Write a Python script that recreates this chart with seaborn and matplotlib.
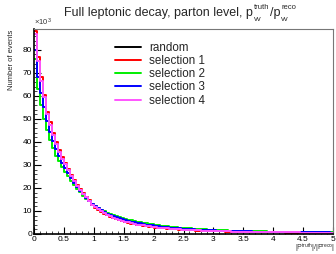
import numpy as np
import pandas as pd
import matplotlib
matplotlib.use("Agg")
import matplotlib.pyplot as plt
from matplotlib.lines import Line2D
from matplotlib.ticker import MultipleLocator
import seaborn as sns

# ---------------- data (counts in units of 10^3, 100 bins of width 0.05 on [0,5]) -------------
bin_edges_lo = 0.0
bin_edges_hi = 5.0
n_bins = 100

series_names = ["random", "selection 1", "selection 2", "selection 3", "selection 4"]
series_colors = ["#000000", "#ff0000", "#00ee00", "#0000ff", "#ff55ff"]

sel1 = [88, 77, 68, 60.5, 53, 48.5, 44, 40, 36.5, 33.5,
        31, 28.3, 25.8, 23.5, 21.4, 19.5, 17.7, 16.1, 14.7, 12.6,
        11.5, 10.5, 9.6, 8.8, 8.1, 7.5, 6.9, 6.4, 5.9, 5.5,
        5.1, 4.8, 4.5, 4.2, 3.9, 3.7, 3.5, 3.3, 3.1, 2.9,
        2.8, 2.6, 2.5, 2.4, 2.3, 2.2, 2.1, 2.0, 1.9, 1.8,
        1.75, 1.7, 1.6, 1.55, 1.5, 1.45, 1.4, 1.35, 1.3, 1.25,
        1.2, 1.17, 1.14, 1.1, 1.07, 1.04, 1.0, 0.98, 0.95, 0.93,
        0.9, 0.88, 0.86, 0.84, 0.82, 0.8, 0.78, 0.76, 0.74, 0.72,
        0.7, 0.69, 0.68, 0.66, 0.65, 0.64, 0.62, 0.61, 0.6, 0.59,
        0.58, 0.57, 0.56, 0.55, 0.54, 0.53, 0.52, 0.51, 0.5, 0.49]

sel2 = [76, 63, 56, 50, 45, 41, 37.5, 34, 31.5, 29,
        27, 25, 23, 21.2, 19.6, 18.1, 16.7, 15.4, 14.2, 13.1,
        12.1, 11.3, 10.6, 9.9, 9.3, 8.7, 8.2, 7.7, 7.3, 6.9,
        6.5, 6.2, 5.9, 5.6, 5.3, 5.1, 4.8, 4.6, 4.4, 4.2,
        4.0, 3.8, 3.6, 3.45, 3.3, 3.15, 3.0, 2.9, 2.8, 2.7,
        2.6, 2.5, 2.4, 2.3, 2.2, 2.12, 2.05, 1.98, 1.9, 1.84,
        1.78, 1.72, 1.66, 1.61, 1.56, 1.51, 1.46, 1.42, 1.38, 1.34,
        1.3, 1.27, 1.24, 1.21, 1.18, 1.15, 1.12, 1.09, 1.07, 1.04,
        1.02, 1.0, 0.98, 0.96, 0.94, 0.92, 0.9, 0.88, 0.87, 0.85,
        0.84, 0.82, 0.81, 0.8, 0.78, 0.77, 0.76, 0.75, 0.74, 0.73]

sel3 = [80, 68, 61, 55, 49, 44.5, 40.5, 37, 34, 31,
        28.5, 26.3, 24.2, 22.2, 20.4, 18.7, 17.2, 15.8, 14.5, 13.2,
        12, 11.1, 10.3, 9.6, 8.9, 8.3, 7.8, 7.3, 6.8, 6.4,
        6.0, 5.7, 5.4, 5.1, 4.8, 4.6, 4.4, 4.1, 3.9, 3.7,
        3.5, 3.3, 3.2, 3.0, 2.9, 2.8, 2.65, 2.55, 2.45, 2.35,
        2.25, 2.15, 2.05, 2.0, 1.92, 1.85, 1.78, 1.72, 1.66, 1.6,
        1.55, 1.5, 1.45, 1.41, 1.37, 1.33, 1.29, 1.25, 1.22, 1.19,
        1.16, 1.13, 1.1, 1.07, 1.05, 1.02, 1.0, 0.98, 0.95, 0.93,
        0.91, 0.89, 0.87, 0.86, 0.84, 0.82, 0.81, 0.79, 0.78, 0.76,
        0.75, 0.74, 0.73, 0.72, 0.7, 0.69, 0.68, 0.67, 0.66, 0.65]

sel4 = [87, 75, 66.5, 59.5, 52, 47.5, 43, 39, 35.5, 32.5,
        30.3, 27.8, 25.3, 23.1, 21, 19.2, 17.4, 15.9, 14.5, 12.5,
        11.6, 10.7, 9.8, 9.0, 8.3, 7.7, 7.1, 6.6, 6.1, 5.7,
        5.3, 5.0, 4.7, 4.4, 4.1, 3.9, 3.7, 3.5, 3.3, 3.1,
        2.95, 2.8, 2.65, 2.55, 2.45, 2.35, 2.25, 2.15, 2.05, 1.95,
        1.88, 1.82, 1.74, 1.68, 1.62, 1.56, 1.5, 1.45, 1.4, 1.35,
        1.3, 1.26, 1.22, 1.18, 1.14, 1.11, 1.08, 1.05, 1.02, 0.99,
        0.96, 0.94, 0.92, 0.9, 0.88, 0.86, 0.84, 0.82, 0.8, 0.78,
        0.76, 0.75, 0.74, 0.72, 0.71, 0.7, 0.68, 0.67, 0.66, 0.65,
        0.64, 0.63, 0.62, 0.61, 0.6, 0.59, 0.58, 0.57, 0.56, 0.55]

# "random" is fully hidden under the coloured histograms in the reference
random_vals = [87, 75, 66.5, 59.5, 52, 47.5, 43, 39, 35.5, 32.5,
               30.3, 27.8, 25.3, 23.1, 21, 19.2, 17.4, 15.9, 14.5, 12.5,
               11.6, 10.7, 9.8, 9.0, 8.3, 7.7, 7.1, 6.6, 6.1, 5.7,
               5.3, 5.0, 4.7, 4.4, 4.1, 3.9, 3.7, 3.5, 3.3, 3.1,
               2.95, 2.8, 2.65, 2.55, 2.45, 2.35, 2.25, 2.15, 2.05, 1.95,
               1.88, 1.82, 1.74, 1.68, 1.62, 1.56, 1.5, 1.45, 1.4, 1.35,
               1.3, 1.26, 1.22, 1.18, 1.14, 1.11, 1.08, 1.05, 1.02, 0.99,
               0.96, 0.94, 0.92, 0.9, 0.88, 0.86, 0.84, 0.82, 0.8, 0.78,
               0.76, 0.75, 0.74, 0.72, 0.71, 0.7, 0.68, 0.67, 0.66, 0.65,
               0.64, 0.63, 0.62, 0.61, 0.6, 0.59, 0.58, 0.57, 0.56, 0.55]

series_values = [random_vals, sel1, sel2, sel3, sel4]

# ---------------- plotting ----------------
sns.set_theme(style="white")
plt.rcParams["font.family"] = ["Liberation Sans", "DejaVu Sans"]
plt.rcParams["mathtext.fontset"] = "custom"
plt.rcParams["mathtext.rm"] = "Liberation Sans"
plt.rcParams["mathtext.it"] = "Liberation Sans:italic"

edges = np.linspace(bin_edges_lo, bin_edges_hi, n_bins + 1)
centers = 0.5 * (edges[:-1] + edges[1:])

rows = []
for name, vals in zip(series_names, series_values):
    for c, v in zip(centers, vals):
        rows.append({"x": c, "w": v, "series": name})
df = pd.DataFrame(rows)

W, H = 336, 254
fig = plt.figure(figsize=(W / 100, H / 100), dpi=100)
ax = fig.add_axes([34 / W, 1 - 234 / H, 299 / W, 205 / H])

for name, col in zip(series_names, series_colors):
    sns.histplot(data=df[df["series"] == name].reset_index(drop=True), x="x", weights="w",
                 bins=n_bins, binrange=(bin_edges_lo, bin_edges_hi),
                 element="step", fill=False, color=col, linewidth=1.4, ax=ax)

ax.set_xlim(0, 5)
ax.set_ylim(0, 89)
ax.set_xlabel("")
ax.set_ylabel("")
ax.set_xticks(np.arange(0, 5.01, 0.5))
ax.set_xticklabels(["0", "0.5", "1", "1.5", "2", "2.5", "3", "3.5", "4", "4.5", "5"])
ax.xaxis.set_minor_locator(MultipleLocator(0.1))
ax.yaxis.set_major_locator(MultipleLocator(10))
ax.yaxis.set_minor_locator(MultipleLocator(2))
ax.tick_params(axis="both", which="major", direction="in", length=5, width=0.8,
               labelsize=6, pad=1.5, colors="black", bottom=True, left=True)
ax.tick_params(axis="both", which="minor", direction="in", length=2.5, width=0.6,
               bottom=True, left=True)
ax.tick_params(top=False, right=False, which="both")
for side in ["left", "bottom"]:
    ax.spines[side].set_color("black")
    ax.spines[side].set_linewidth(1.2)
for side in ["top", "right"]:
    ax.spines[side].set_color("#777777")
    ax.spines[side].set_linewidth(0.8)

# exponent marker
ax.text(0.0, 1.005, r"$\times$10$^{3}$", transform=ax.transAxes, fontsize=5.5,
        ha="left", va="bottom", color="#333333")

# axis titles
fig.text(12 / W, 1 - 30 / H, "Number of events", rotation=90, fontsize=5.5,
         ha="center", va="top")
fig.text(335 / W, 1 - 248.5 / H, r"|P$^{\rm truth}$|/|P$^{\rm reco}$|", fontsize=5,
         ha="right", va="center")

# title built from pieces (ROOT-style small scripts)
fig.canvas.draw()
renderer = fig.canvas.get_renderer()

t_main = fig.text(64 / W, 1 - 16 / H, "Full leptonic decay, parton level, p",
                  fontsize=9, ha="left", va="baseline")
x_px = t_main.get_window_extent(renderer).x1 + 1
t_sup1 = fig.text(x_px / W, 1 - 9 / H, "truth", fontsize=5.5, ha="left", va="baseline")
fig.text(x_px / W, 1 - 21 / H, "vv", fontsize=5.5, ha="left", va="baseline")
x_px = t_sup1.get_window_extent(renderer).x1 + 0.5
t_slash = fig.text(x_px / W, 1 - 16 / H, "/p", fontsize=9, ha="left", va="baseline")
x_px = t_slash.get_window_extent(renderer).x1 + 1
fig.text(x_px / W, 1 - 9 / H, "reco", fontsize=5.5, ha="left", va="baseline")
fig.text(x_px / W, 1 - 21 / H, "vv", fontsize=5.5, ha="left", va="baseline")

# legend
handles = [Line2D([0], [0], color=c, lw=1.4) for c in series_colors]
leg = ax.legend(handles, series_names, loc="upper left",
                bbox_to_anchor=((115 - 34) / 299, 1 - 13 / 205), frameon=False,
                fontsize=8.4, handlelength=2.2, handletextpad=0.75,
                labelspacing=0.1, borderpad=0, borderaxespad=0)

fig.savefig("out.png", dpi=100, facecolor="white")
